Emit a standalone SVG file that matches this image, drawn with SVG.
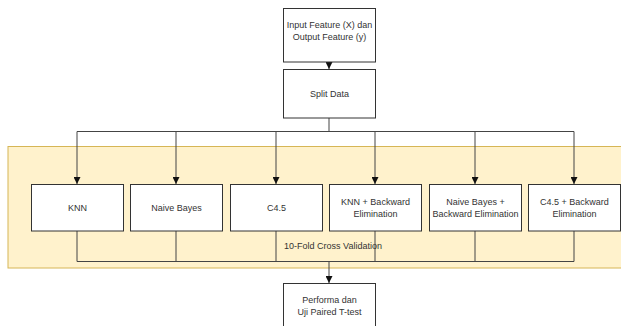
<svg xmlns="http://www.w3.org/2000/svg" width="621" height="326" viewBox="0 0 621 326">
<style>
.box{fill:#fff;stroke:#333;stroke-width:1}
.t{font-family:"Liberation Sans",Arial,sans-serif;font-size:9px;fill:#333;text-anchor:middle;dominant-baseline:central}
.c{fill:none;stroke:#444;stroke-width:1}
</style>
<defs>
<marker id="ah" viewBox="0 0 10 10" refX="10" refY="5" markerWidth="7" markerHeight="7" markerUnits="userSpaceOnUse" orient="auto">
<path d="M0,0 L10,5 L0,10 Z" fill="#111"/>
</marker>
</defs>
<rect x="0" y="0" width="621" height="326" fill="#fff"/>
<g id="band">
<rect x="8" y="146.5" width="620" height="121.5" fill="#fff2cc" stroke="#d6b656" stroke-width="1"/>
</g>
<g id="connectors">
<line class="c" x1="329" y1="62" x2="329" y2="69" marker-end="url(#ah)"/>
<path class="c" d="M329,118 V131.5 M77,131.5 H574"/>
<line class="c" x1="77" y1="131.5" x2="77" y2="184" marker-end="url(#ah)"/>
<line class="c" x1="176" y1="131.5" x2="176" y2="184" marker-end="url(#ah)"/>
<line class="c" x1="276" y1="131.5" x2="276" y2="184" marker-end="url(#ah)"/>
<line class="c" x1="375" y1="131.5" x2="375" y2="184" marker-end="url(#ah)"/>
<line class="c" x1="475" y1="131.5" x2="475" y2="184" marker-end="url(#ah)"/>
<line class="c" x1="574" y1="131.5" x2="574" y2="184" marker-end="url(#ah)"/>
<path class="c" d="M77,231 V261.5 H574 V231 M176,231 V261.5 M276,231 V261.5 M375,231 V261.5 M475,231 V261.5"/>
<line class="c" x1="329" y1="261.5" x2="329" y2="283" marker-end="url(#ah)"/>
</g>
<text class="t" x="333" y="246">10-Fold Cross Validation</text>
<g id="input"><rect class="box" x="283.5" y="8.5" width="92" height="53.5"/><text class="t" x="329.5" y="25">Input Feature (X) dan</text><text class="t" x="329.5" y="36.5">Output Feature (y)</text></g>
<g id="split"><rect class="box" x="283.5" y="69.5" width="92" height="48.5"/><text class="t" x="329.5" y="93.5">Split Data</text></g>
<g id="knn"><rect class="box" x="31.5" y="184.5" width="92" height="46.5"/><text class="t" x="77.5" y="207.5">KNN</text></g>
<g id="nb"><rect class="box" x="130.5" y="184.5" width="92" height="46.5"/><text class="t" x="176.5" y="207.5">Naive Bayes</text></g>
<g id="c45"><rect class="box" x="230.5" y="184.5" width="92" height="46.5"/><text class="t" x="276.5" y="207.5">C4.5</text></g>
<g id="knnbe"><rect class="box" x="329.5" y="184.5" width="92" height="46.5"/><text class="t" x="375.5" y="202">KNN + Backward</text><text class="t" x="375.5" y="213.5">Elimination</text></g>
<g id="nbbe"><rect class="box" x="429.5" y="184.5" width="92" height="46.5"/><text class="t" x="475.5" y="202">Naive Bayes +</text><text class="t" x="475.5" y="213.5">Backward Elimination</text></g>
<g id="c45be"><rect class="box" x="528.5" y="184.5" width="92" height="46.5"/><text class="t" x="574.5" y="202">C4.5 + Backward</text><text class="t" x="574.5" y="213.5">Elimination</text></g>
<g id="performa"><rect class="box" x="283.5" y="283.5" width="92" height="50"/><text class="t" x="329.5" y="300">Performa dan</text><text class="t" x="329.5" y="311.5">Uji Paired T-test</text></g>
</svg>
